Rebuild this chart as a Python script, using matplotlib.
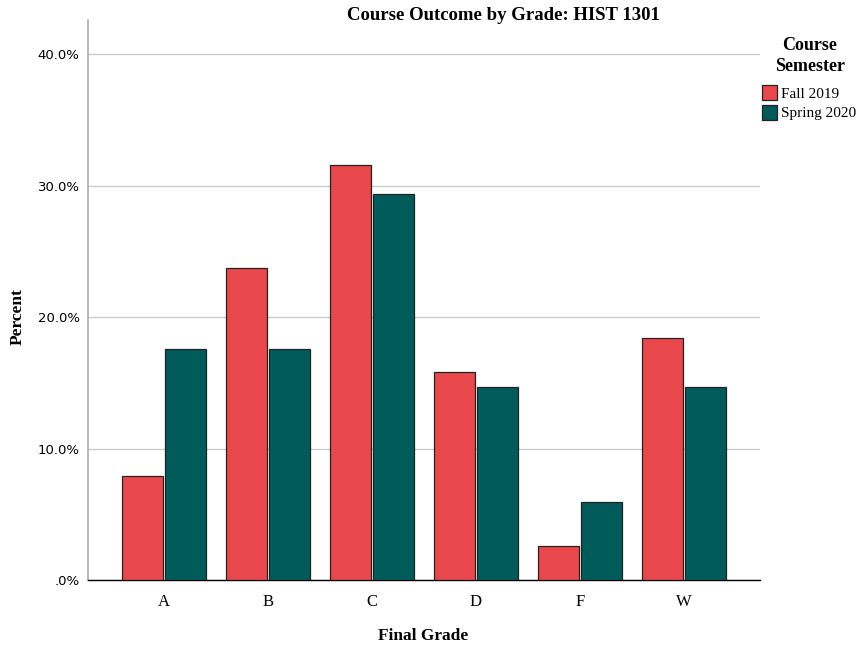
import matplotlib.pyplot as plt
import numpy as np
from matplotlib.patches import Patch

grades = ['A', 'B', 'C', 'D', 'F', 'W']
semesters = ['Fall 2019', 'Spring 2020']
fall_2019 = [7.9, 23.7, 31.6, 15.8, 2.6, 18.4]
spring_2020 = [17.6, 17.6, 29.4, 14.7, 5.9, 14.7]
colors = ['#E8484B', '#005B5A']
yticks = [0, 10, 20, 30, 40]
ytick_labels = ['.0%', '10.0%', '20.0%', '30.0%', '40.0%']

serif = 'Liberation Serif'

fig = plt.figure(figsize=(8.65, 6.48), dpi=100)
ax = fig.add_axes([88 / 865, 68 / 648, 672 / 865, 560 / 648])

x = np.arange(len(grades))
w = 0.39
ax.bar(x - w / 2 - 0.01, fall_2019, width=w, color=colors[0], edgecolor='#222222', linewidth=0.9, zorder=3)
ax.bar(x + w / 2 + 0.01, spring_2020, width=w, color=colors[1], edgecolor='#222222', linewidth=0.9, zorder=3)

ax.set_xlim(-0.73, 5.73)
ax.set_ylim(0, 42.6)
ax.set_yticks(yticks)
ax.set_yticklabels(ytick_labels, fontsize=9.5, family='DejaVu Sans')
ax.set_xticks(x)
ax.set_xticklabels(grades, fontsize=12, family=serif)
ax.tick_params(length=0, pad=6)
ax.tick_params(axis='x', pad=10)
ax.grid(axis='y', color='#cccccc', linewidth=1, zorder=0)

for s in ['top', 'right']:
    ax.spines[s].set_visible(False)
ax.spines['left'].set_color('#aaaaaa')
ax.spines['left'].set_linewidth(1.2)
ax.spines['bottom'].set_color('black')
ax.spines['bottom'].set_linewidth(1)

fig.text(503 / 865, 1 - 16 / 648, 'Course Outcome by Grade: HIST 1301', ha='center', va='center',
         fontsize=13.5, fontweight='bold', family=serif)
fig.text(423 / 865, 1 - 636 / 648, 'Final Grade', ha='center', va='center',
         fontsize=12.5, fontweight='bold', family=serif)
fig.text(18 / 865, 1 - 317 / 648, 'Percent', ha='center', va='center', rotation=90,
         fontsize=12.5, fontweight='bold', family=serif)

# legend title drawn separately to control spacing
fig.text(810 / 865, 1 - 56 / 648, 'Course\nSemester', ha='center', va='center', multialignment='center',
         fontsize=13, fontweight='bold', family=serif, linespacing=1.3)

handles = [Patch(facecolor=c, edgecolor='#222222', linewidth=0.9) for c in colors]
leg = fig.legend(handles, semesters, loc='upper left', bbox_to_anchor=(762 / 865, 1 - 85 / 648),
                 frameon=False, handlelength=1.0, handleheight=1.15,
                 handletextpad=0.25, labelspacing=0.25, borderpad=0, borderaxespad=0,
                 prop={'family': serif, 'size': 11})

plt.savefig('out.png', dpi=100)
